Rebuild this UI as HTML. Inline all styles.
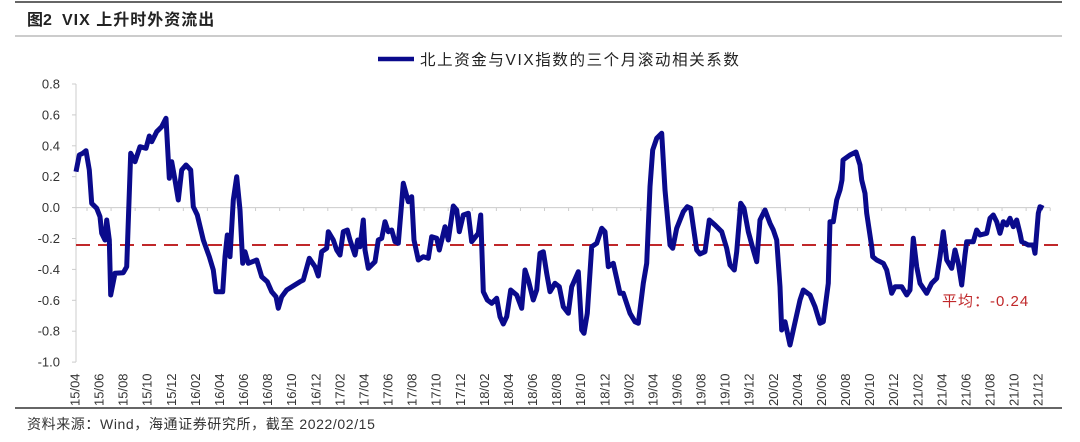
<!DOCTYPE html>
<html><head><meta charset="utf-8"><style>
body{margin:0;background:#fff;width:1080px;height:437px;overflow:hidden;font-family:"Liberation Sans","Noto Sans CJK SC",sans-serif}
</style></head><body>
<svg id="s" width="1080" height="437" xmlns="http://www.w3.org/2000/svg" font-family="Liberation Sans, Noto Sans CJK SC, sans-serif">
<line x1="15" y1="2" x2="1062" y2="2" stroke="#333" stroke-width="1.5"/>
<text x="27" y="25" font-size="16" font-weight="bold" fill="#222">图2</text>
<text x="62" y="25" font-size="16" font-weight="bold" fill="#222" letter-spacing="1">VIX 上升时外资流出</text>
<line x1="15" y1="36" x2="1062" y2="36" stroke="#999" stroke-width="1"/>
<line x1="378" y1="59" x2="414" y2="59" stroke="#0a0a8c" stroke-width="4.5"/>
<text x="420" y="65" font-size="15.5" fill="#222" letter-spacing="1.6">北上资金与VIX指数的三个月滚动相关系数</text>
<g id="yax" font-size="13" fill="#333" text-anchor="end"></g>
<line x1="76" y1="84" x2="76" y2="362" stroke="#ccc"/>
<line x1="76" y1="207.6" x2="1050" y2="207.6" stroke="#ccc"/>
<g id="xt"></g>
<line x1="76" y1="245" x2="1058" y2="245" stroke="#c0282a" stroke-width="2" stroke-dasharray="14,8"/>
<polyline id="pl" fill="none" stroke="#0a0a8c" stroke-width="5" stroke-linejoin="round"/>
<text x="942" y="306" font-size="15" fill="#c0282a" letter-spacing="1">平均：-0.24</text>
<line x1="15" y1="408" x2="1062" y2="408" stroke="#333" stroke-width="1.5"/>
<text x="27" y="429" font-size="14" fill="#333" letter-spacing="0.6">资料来源：Wind，海通证券研究所，截至 2022/02/15</text>
</svg>
<script>
var s='http://www.w3.org/2000/svg';
var ya=document.getElementById('yax');
for(var i=0;i<10;i++){var v=0.8-0.2*i;var y=84+i*30.9;
var t=document.createElementNS(s,'text');t.setAttribute('x',60);t.setAttribute('y',y+4.5);t.textContent=(Math.abs(v)<1e-9?0:v).toFixed(1);ya.appendChild(t);
var l=document.createElementNS(s,'line');l.setAttribute('x1',72);l.setAttribute('x2',76);l.setAttribute('y1',y);l.setAttribute('y2',y);l.setAttribute('stroke','#ccc');ya.appendChild(l);}
var xt=document.getElementById('xt');var k=0;
for(var yr=15;yr<=21;yr++)for(var m=2;m<=12;m+=2){if(yr==15&&m<4)continue;
var x=75+k*24.08;var t=document.createElementNS(s,'text');t.setAttribute('transform','translate('+(x+4.5)+',406) rotate(-90)');t.setAttribute('font-size','13');t.setAttribute('fill','#333');t.textContent=yr+'/'+(m<10?'0':'')+m;xt.appendChild(t);
var l=document.createElementNS(s,'line');l.setAttribute('x1',x+12);l.setAttribute('x2',x+12);l.setAttribute('y1',207.6);l.setAttribute('y2',211);l.setAttribute('stroke','#ccc');xt.appendChild(l);k++;}
var z4=[48,215,58,165,68,160,78,152,88,210,95,310,110,325,120,350,125,400,135,420,140,360,148,420,152,585,165,520,190,518,200,500,212,160,225,185,240,140,258,145,268,108,275,125,290,95,305,80,318,55,328,235,335,185,345,240,355,300,365,210,378,195,392,210,400,320,412,345,430,420,448,470,460,510,468,575,488,575,495,470,502,405,510,470,520,300,530,230,540,330,548,490,555,455,565,490,590,480,605,530,622,545,635,575,648,590,655,625,665,590,680,570,720,545,730,540,748,475,765,500,775,528,785,455,800,445,805,395,820,420,830,450,840,465,850,395,862,390,870,420,885,465,893,420,900,440,910,360,915,450,925,505,945,485,955,420,965,415,975,365,985,395,995,390,1005,425,1015,430,1030,250,1045,305,1055,290,1062,420,1075,480];
var z5=[70,470,85,475,95,410,110,415,118,450,135,380,145,420,160,318,170,330,178,395,190,345,205,340,215,425,235,400,242,345,250,575,262,600,275,610,290,595,300,650,310,672,320,650,332,570,350,585,365,625,375,510,385,540,400,600,410,570,420,460,430,455,440,520,450,575,465,550,478,560,490,620,505,640,515,560,535,515,545,690,552,700,562,640,575,440,590,430,605,385,615,395,625,500,640,490,660,580,670,580,690,640,705,665,715,670,730,550,740,490,750,260,758,150,770,115,785,100,795,270,810,435,818,445,830,385,850,335,862,320,872,325,880,380,890,450,900,462,915,455,928,360,945,375,965,395,980,445,990,495,1003,510,1010,455,1022,310,1032,325,1045,395,1060,450,1070,485,1080,360,1095,330,1110,370,1120,390,1130,420,1140,560,1145,690,1155,665,1170,735,1180,690,1200,600];
var z3=[70,330,90,345,105,380,120,430,130,425,145,310,150,125,160,125,170,60,180,30,186,0];
var mid=[843,160,850,155,856,152,860,165];
var z3b=[245,0,255,40,260,100,275,200,278,230,290,240,310,250,320,270,335,340,345,320,365,320,380,345,390,330,400,175,410,260,420,310,440,340,455,310,470,295,480,230,490,155,500,240,515,265,525,210,535,250,545,315,555,225,560,185,580,185,590,150,600,165,620,160,630,115,640,105,650,125,660,160,670,125,680,135,690,115,700,140,710,120,720,160,725,185,745,195,760,195,765,220,775,100,780,80,790,85];
var p=[];
function add(a,ox,oy){for(var i=0;i<a.length;i+=2)p.push((ox+a[i]/3).toFixed(1)+','+(oy+a[i+1]/3).toFixed(1));}
add(z4,60,100);add(z5,400,100);add(z3,780,180);
for(var i=0;i<mid.length;i+=2)p.push(mid[i]+','+mid[i+1]);
add(z3b,780,180);
document.getElementById('pl').setAttribute('points',p.join(' '));
</script>
</body></html>
